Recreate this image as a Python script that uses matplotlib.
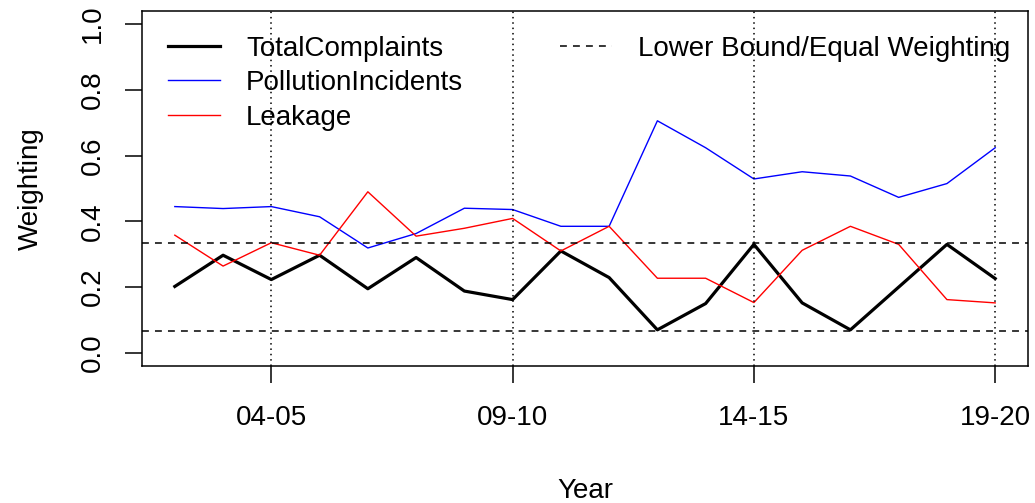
import matplotlib
matplotlib.use("Agg")
import matplotlib.pyplot as plt
from matplotlib.lines import Line2D

plt.rcParams['font.family'] = ['Liberation Sans', 'DejaVu Sans']

years = ["02-03", "03-04", "04-05", "05-06", "06-07", "07-08", "08-09", "09-10",
         "10-11", "11-12", "12-13", "13-14", "14-15", "15-16", "16-17", "17-18",
         "18-19", "19-20"]
total_complaints = [0.202, 0.297, 0.223, 0.297, 0.195, 0.290, 0.188, 0.162, 0.310,
                    0.229, 0.070, 0.150, 0.330, 0.152, 0.070, 0.200, 0.330, 0.226]
pollution_incidents = [0.445, 0.439, 0.445, 0.414, 0.319, 0.363, 0.440, 0.436, 0.385,
                       0.385, 0.706, 0.624, 0.529, 0.551, 0.538, 0.473, 0.515, 0.624]
leakage = [0.358, 0.264, 0.335, 0.297, 0.490, 0.355, 0.379, 0.409, 0.310,
           0.385, 0.227, 0.227, 0.153, 0.312, 0.385, 0.330, 0.162, 0.152]
equal_weighting = 1 / 3
lower_bound = 0.067
tick_years = ["04-05", "09-10", "14-15", "19-20"]

x = list(range(len(years)))
FS = 20
DASH = (0, (4.5, 4))

fig = plt.figure(figsize=(10.35, 5.03), dpi=100)
ax = fig.add_axes([142 / 1035, 1 - 366 / 503, (1028 - 142) / 1035, (366 - 11) / 503])

ax.plot(x, total_complaints, color='black', lw=2.3)
ax.plot(x, pollution_incidents, color='blue', lw=1.0)
ax.plot(x, leakage, color='red', lw=1.0)

for v in (equal_weighting, lower_bound):
    ax.axhline(v, color='black', ls=DASH, lw=1.1)

tick_pos = [years.index(t) for t in tick_years]
for p in tick_pos:
    ax.axvline(p, color='black', ls=(0, (1, 2.5)), lw=1.1)

ax.set_xlim(-0.68, 17.68)
ax.set_ylim(-0.04, 1.04)
ax.set_xticks(tick_pos)
ax.set_xticklabels(tick_years)
ax.set_yticks([0.0, 0.2, 0.4, 0.6, 0.8, 1.0])
ax.set_yticklabels(["0.0", "0.2", "0.4", "0.6", "0.8", "1.0"], rotation=90, va='center')
ax.tick_params(axis='both', length=12, width=1.1, labelsize=FS)
ax.tick_params(axis='x', pad=16)
ax.tick_params(axis='y', pad=14)
for s in ax.spines.values():
    s.set_linewidth(1.1)

ax.set_xlabel("Year", fontsize=FS, labelpad=34)
ax.set_ylabel("Weighting", fontsize=FS, labelpad=26)

h1 = [Line2D([], [], color='black', lw=2.3),
      Line2D([], [], color='blue', lw=1.0),
      Line2D([], [], color='red', lw=1.0)]
leg1 = ax.legend(h1, ["TotalComplaints", "PollutionIncidents", "Leakage"],
                 loc='upper left', bbox_to_anchor=(26 / 886, 0.93), frameon=False,
                 fontsize=FS, handlelength=1.87, handletextpad=0.94,
                 labelspacing=0.30, borderaxespad=0, borderpad=0)
ax.add_artist(leg1)
h2 = [Line2D([], [], color='black', lw=1.1, ls=DASH)]
ax.legend(h2, ["Lower Bound/Equal Weighting"], loc='upper left',
          bbox_to_anchor=(418 / 886, 0.93), frameon=False, fontsize=FS,
          handlelength=1.87, handletextpad=0.94, borderaxespad=0, borderpad=0)

fig.savefig("out.png", dpi=100)
